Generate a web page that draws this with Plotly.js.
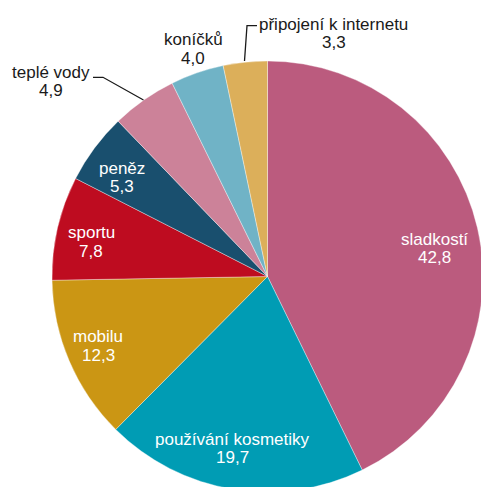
<!DOCTYPE html>
<html>
<head>
<meta charset="utf-8">
<script src="https://cdn.plot.ly/plotly-3.0.1.min.js"></script>
<style>
html,body{margin:0;padding:0;overflow:hidden;background:#fff;}
#chart{width:490px;height:497px;}
</style>
</head>
<body>
<div id="chart"></div>
<script>
// ---- data ----
var categories = ["sladkostí", "používání kosmetiky", "mobilu", "sportu", "peněz", "teplé vody", "koníčků", "připojení k internetu"];
var values = [42.8, 19.7, 12.3, 7.8, 5.3, 4.9, 4.0, 3.3];
var colors = ["#BB5B7E", "#009CB4", "#CB9614", "#BE0C20", "#194F6E", "#CC8299", "#70B3C6", "#DCAF5A"];

// ---- layout geometry (pixels) ----
var W = 490, H = 497, ML = 52, MT = 61, PW = 431, PH = 431;
function px(x){ return (x - ML) / PW; }
function py(y){ return 1 - (y - MT) / PH; }

// label placement: [x center, name baseline, value baseline]
var labelPos = [
  [434, 245, 263],
  [232, 445, 463],
  [98, 341.5, 360.5],
  [91, 238, 257],
  [122, 173.5, 191.5],
  [50.5, 77.5, 96],
  [193, 45, 63.5],
  [333.5, 29.5, 47.5]
];
var labelColor = ["#ffffff","#ffffff","#ffffff","#ffffff","#ffffff","#1a1a1a","#1a1a1a","#1a1a1a"];

function fmt(v){ return v.toFixed(1).replace('.', ','); }

var FS = 17;
var annotations = [];
for (var i = 0; i < categories.length; i++) {
  var p = labelPos[i];
  var lines = [categories[i], fmt(values[i])];
  for (var j = 0; j < 2; j++) {
    annotations.push({
      xref: 'paper', yref: 'paper',
      x: px(p[0]), y: py(p[1 + j] - 0.3 * FS),
      xanchor: 'center', yanchor: 'middle',
      text: lines[j], showarrow: false,
      font: {family: '"Liberation Sans", Arial, sans-serif', size: FS, color: labelColor[i]}
    });
  }
}

function pathPx(pts){
  return pts.map(function(q, k){ return (k ? 'L' : 'M') + px(q[0]) + ',' + py(q[1]); }).join(' ');
}
var leaderColor = '#1a1a1a';
var shapes = [
  {type: 'path', xref: 'paper', yref: 'paper', path: pathPx([[93, 77.3], [103, 77.3], [143.5, 100]]), line: {color: leaderColor, width: 1.3}},
  {type: 'path', xref: 'paper', yref: 'paper', path: pathPx([[257, 25.7], [247, 25.7], [244.5, 61]]), line: {color: leaderColor, width: 1.3}}
];

var trace = {
  type: 'pie',
  labels: categories,
  values: values,
  sort: false,
  direction: 'clockwise',
  rotation: 0,
  textinfo: 'none',
  hoverinfo: 'none',
  marker: {colors: colors, line: {color: 'rgba(255,255,255,0.6)', width: 0.6}},
  domain: {x: [0, 1], y: [0, 1]}
};

var layout = {
  width: W, height: H,
  margin: {l: ML, r: W - ML - PW, t: MT, b: H - MT - PH, pad: 0},
  showlegend: false,
  paper_bgcolor: '#ffffff',
  plot_bgcolor: '#ffffff',
  annotations: annotations,
  shapes: shapes
};

Plotly.newPlot('chart', [trace], layout, {displayModeBar: false, staticPlot: true});
</script>
</body>
</html>
